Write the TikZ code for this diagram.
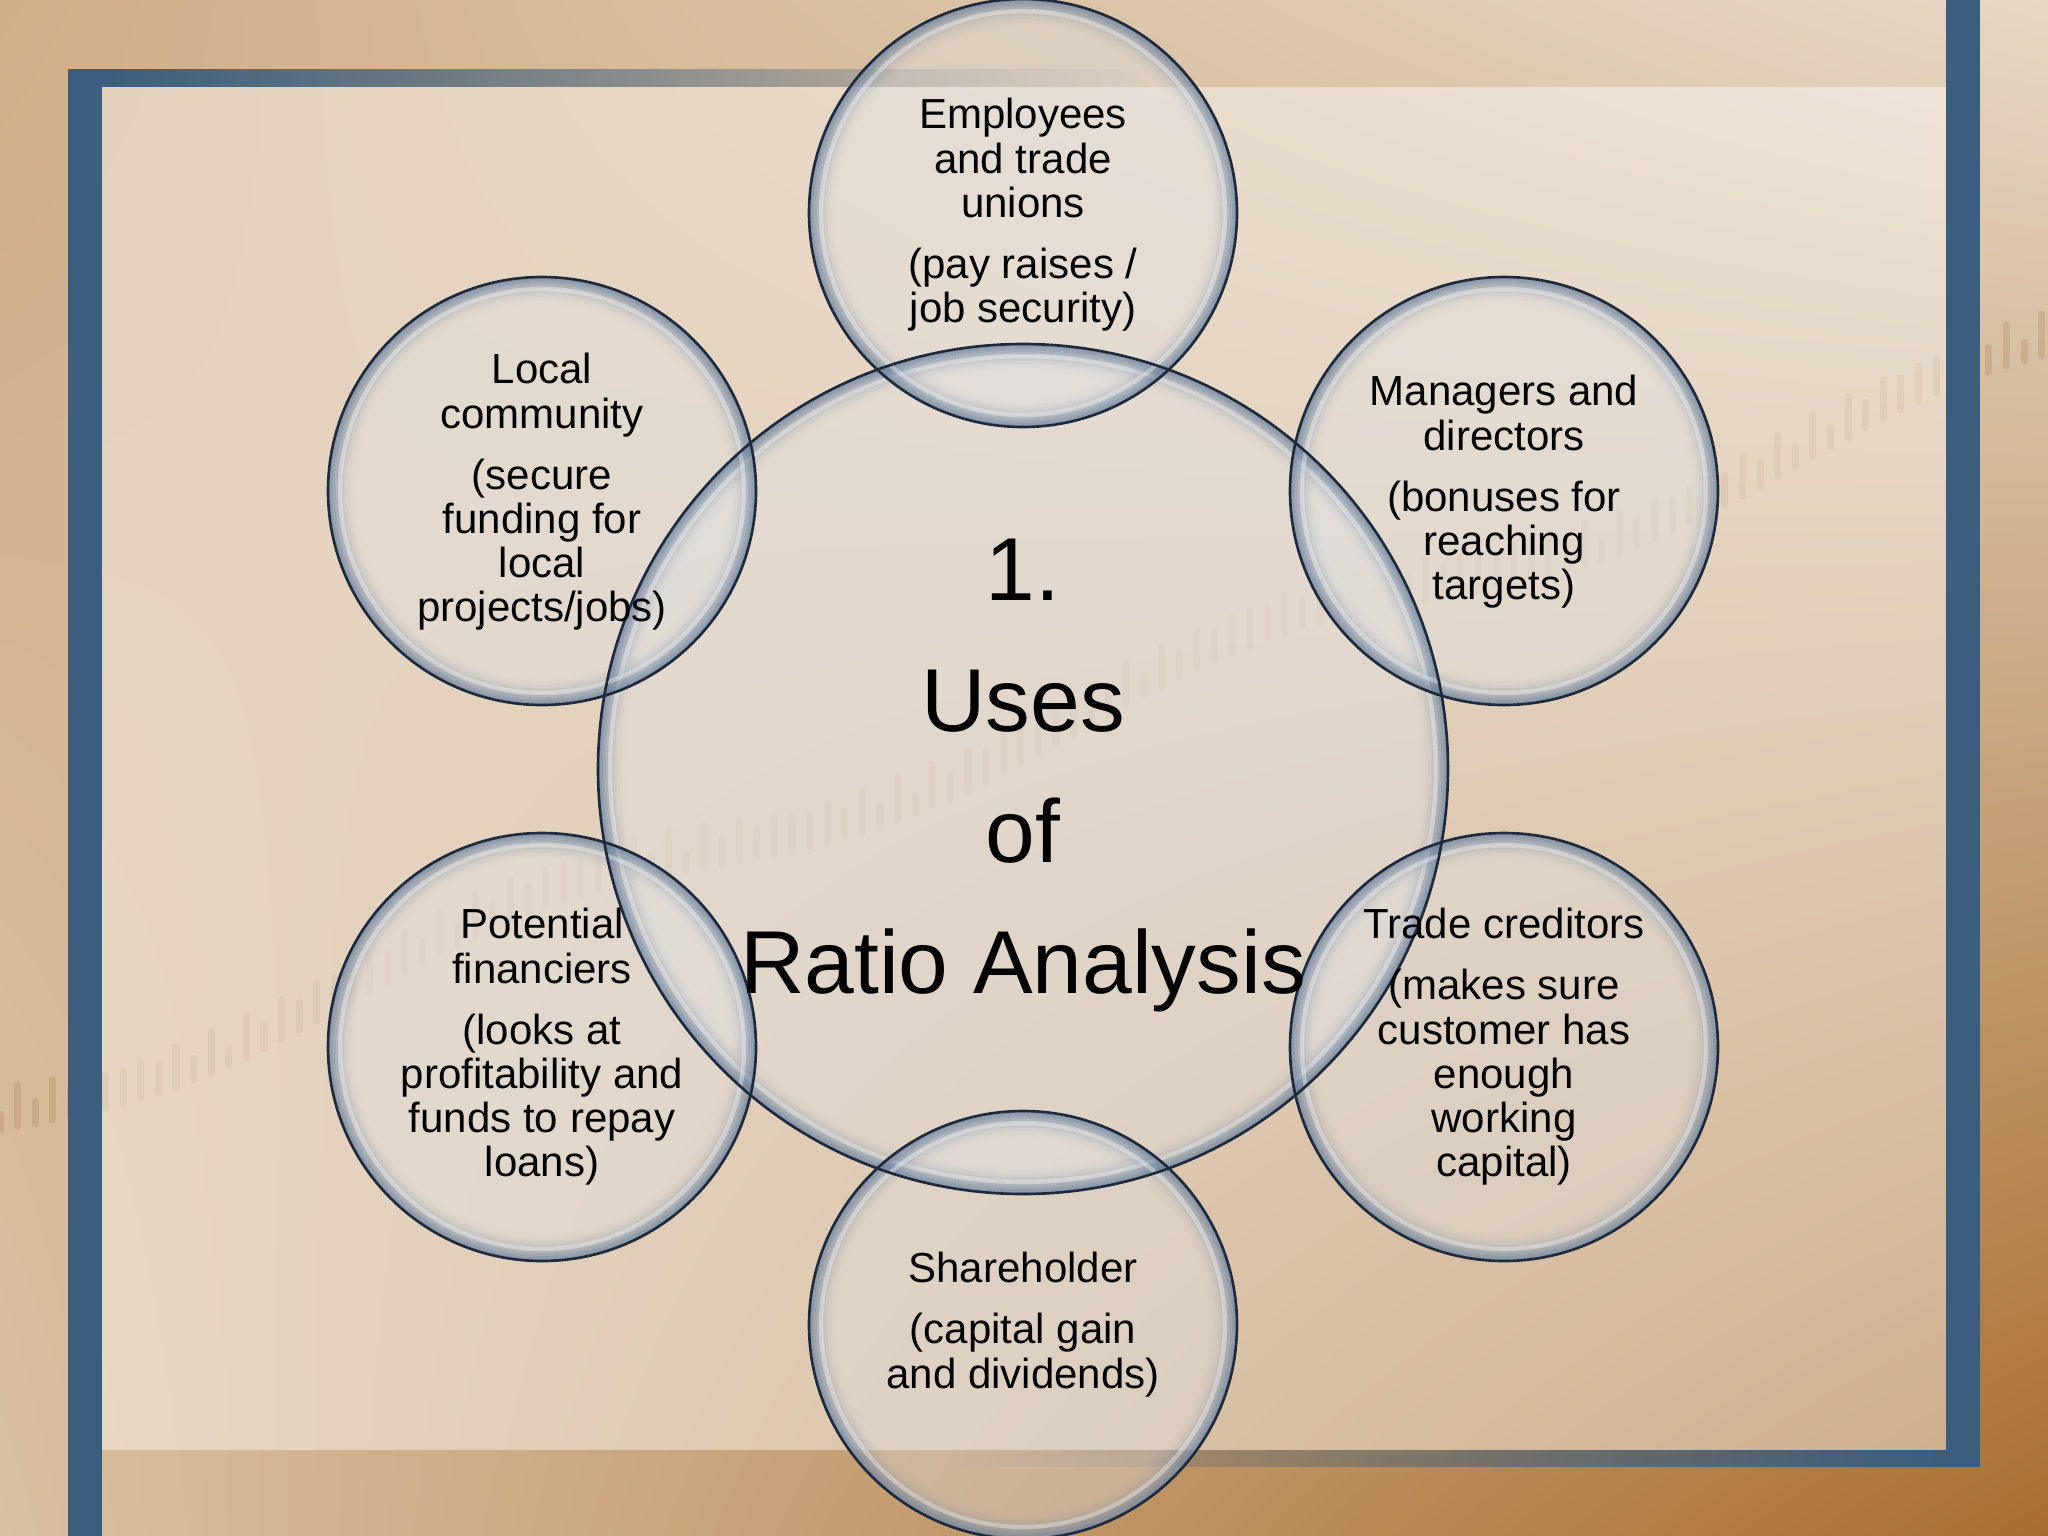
\documentclass[tikz,border=0pt]{standalone}
\usepackage{fontspec}
\setmainfont{Liberation Sans}
\usetikzlibrary{fadings,shadings}

\definecolor{frameblue}{HTML}{3B5E7E}
\definecolor{bgUL}{HTML}{D0AE88}
\definecolor{bgUR}{HTML}{E6D8C6}
\definecolor{bgLL}{HTML}{D9C0A2}
\definecolor{bgLR}{HTML}{A86E30}
\definecolor{chartbrown}{HTML}{9C6A38}
\definecolor{bubblefill}{HTML}{E2E6EC}
\definecolor{rimblue}{HTML}{687F9B}
\definecolor{edgeblue}{HTML}{1F2B3D}

\tikzset{
  bubble/.style={circle, inner sep=0pt, outer sep=0pt, fill=bubblefill, fill opacity=0.35},
  edgeline/.style={draw=edgeblue, line width=0.75pt},
  stxt/.style={align=center, inner sep=0pt, anchor=north, text=black,
    font=\fontsize{11.95pt}{12.6pt}\selectfont},
  ctxt/.style={align=center, inner sep=0pt, anchor=north, text=black,
    font=\fontsize{25.4pt}{37.2pt}\selectfont},
}

\begin{document}
\begin{tikzpicture}[x=0.01cm, y=-0.01cm]
\useasboundingbox (0,0) rectangle (2048,1536);
% background photo
\shade[upper left=bgUL, upper right=bgUR, lower left=bgLL, lower right=bgLR] (0,0) rectangle (2048,1536);
% faint stock chart bars
\foreach \i in {0,...,116} {
  \pgfmathsetmacro{\xx}{\i*17.6}
  \pgfmathsetmacro{\yy}{1130 - \xx*0.37 + 22*sin(\xx*0.5)}
  \pgfmathsetmacro{\hh}{16+26*abs(sin(\i*97))}
  \draw[chartbrown, line width=2pt, line cap=round, draw opacity=0.2] (\xx,\yy) -- (\xx,\yy-\hh);
}
% light inner panel
\fill[white, fill opacity=0.42] (102,87) rectangle (1946,1450);
% frame bars
\fill[frameblue] (68,69) rectangle (102,1536);
\fill[frameblue, path fading=east] (102,69) rectangle (1150,87);
\fill[frameblue] (1946,0) rectangle (1980,1467);
\fill[frameblue, path fading=west] (950,1450) rectangle (1946,1467);

% bubbles
\node[bubble, minimum size=8.5cm] (ctr) at (1023,769) {};
\node[bubble, minimum size=4.28cm] (top) at (1023,213) {};
\node[bubble, minimum size=4.28cm] (tr) at (1504,491) {};
\node[bubble, minimum size=4.28cm] (br) at (1504,1047) {};
\node[bubble, minimum size=4.28cm] (bot) at (1023,1325) {};
\node[bubble, minimum size=4.28cm] (bl) at (542,1047) {};
\node[bubble, minimum size=4.28cm] (tl) at (542,491) {};

% glassy rims
\foreach \cx/\cy/\r in {1023/769/425, 1023/213/214, 1504/491/214, 1504/1047/214, 1023/1325/214, 542/1047/214, 542/491/214} {
  \foreach \k [evaluate=\k as \op using 0.72*(1-\k/18)^2, evaluate=\k as \rr using \r-1-\k*1.5] in {0,...,17} {
    \draw[rimblue, line width=0.5pt, draw opacity=\op] (\cx,\cy) circle[radius=\rr];
  }
  \draw[white, line width=1.2pt, draw opacity=0.35] (\cx,\cy) circle[radius=\r-12];
}
% outlines
\foreach \n/\r in {ctr/425, top/214, tr/214, br/214, bot/214, bl/214, tl/214} {
  \draw[edgeline] (\n.center) circle[radius=\r];
}

% texts
\node[ctxt] (tctr) at (1023,528.6) {\rule{0pt}{0.8em}1.\\Uses\\of\\Ratio Analysis};
\node[stxt] (ttop) at (1023,94.4) {\rule{0pt}{0.8em}Employees\\and trade\\unions\\[4.75pt](pay raises /\\job security)};
\node[stxt] (ttl) at (542,349.4) {\rule{0pt}{0.8em}Local\\community\\[4.75pt](secure\\funding for\\local\\projects/jobs)};
\node[stxt] (ttr) at (1504,371.4) {\rule{0pt}{0.8em}Managers and\\directors\\[4.75pt](bonuses for\\reaching\\targets)};
\node[stxt] (tbl) at (542,904.4) {\rule{0pt}{0.8em}Potential\\financiers\\[4.75pt](looks at\\profitability and\\funds to repay\\loans)};
\node[stxt] (tbr) at (1504,904.4) {\rule{0pt}{0.8em}Trade creditors\\[4.75pt](makes sure\\customer has\\enough\\working\\capital)};
\node[stxt] (tbot) at (1023,1248.4) {\rule{0pt}{0.8em}Shareholder\\[4.75pt](capital gain\\and dividends)};
\end{tikzpicture}
\end{document}
